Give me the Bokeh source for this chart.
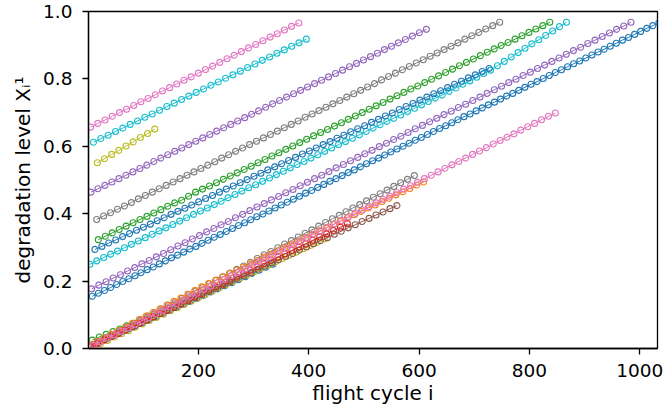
from bokeh.plotting import figure
from bokeh.models import Range1d, FixedTicker, PrintfTickFormatter
from bokeh.embed import file_html
from bokeh.resources import INLINE

# ---- data: (first cycle, cycle step, degradation levels) per unit ----
pink_top_x0, pink_top_step = 5, 13
pink_top_y = [0.657, 0.668, 0.678, 0.689, 0.700, 0.710, 0.721, 0.732, 0.742, 0.753,
              0.764, 0.774, 0.785, 0.796, 0.806, 0.817, 0.828, 0.838, 0.849, 0.860,
              0.870, 0.881, 0.892, 0.902, 0.913, 0.924, 0.934, 0.945, 0.956, 0.966]

cyan_top_x0, cyan_top_step = 10, 13.3
cyan_top_y = [0.612, 0.623, 0.633, 0.644, 0.654, 0.665, 0.675, 0.686, 0.696, 0.707,
              0.718, 0.728, 0.739, 0.749, 0.760, 0.770, 0.781, 0.791, 0.802, 0.812,
              0.823, 0.834, 0.844, 0.855, 0.865, 0.876, 0.886, 0.897, 0.907, 0.918]

olive_top_x0, olive_top_step = 17, 13
olive_top_y = [0.551, 0.563, 0.576, 0.588, 0.601, 0.613, 0.626, 0.638, 0.651]

purple_top_x0, purple_top_step = 5.5, 12.66
purple_top_y = [0.464, 0.474, 0.484, 0.494, 0.504, 0.514, 0.524, 0.534, 0.544, 0.555,
                0.565, 0.575, 0.585, 0.595, 0.605, 0.615, 0.625, 0.635, 0.645, 0.655,
                0.665, 0.675, 0.685, 0.695, 0.705, 0.716, 0.726, 0.736, 0.746, 0.756,
                0.766, 0.776, 0.786, 0.796, 0.806, 0.816, 0.826, 0.836, 0.846, 0.856,
                0.866, 0.876, 0.887, 0.897, 0.907, 0.917, 0.927, 0.937, 0.947]

gray_top_x0, gray_top_step = 15.8, 12.59
gray_top_y = [0.383, 0.393, 0.403, 0.413, 0.423, 0.433, 0.444, 0.454, 0.464, 0.474,
              0.484, 0.494, 0.504, 0.514, 0.524, 0.534, 0.544, 0.554, 0.565, 0.575,
              0.585, 0.595, 0.605, 0.615, 0.625, 0.635, 0.645, 0.655, 0.665, 0.675,
              0.686, 0.696, 0.706, 0.716, 0.726, 0.736, 0.746, 0.756, 0.766, 0.776,
              0.786, 0.797, 0.807, 0.817, 0.827, 0.837, 0.847, 0.857, 0.867, 0.877,
              0.887, 0.897, 0.907, 0.918, 0.928, 0.938, 0.948, 0.958, 0.968]

green_top_x0, green_top_step = 18.8, 12.585
green_top_y = [0.323, 0.333, 0.343, 0.353, 0.363, 0.373, 0.383, 0.392, 0.402, 0.412,
               0.422, 0.432, 0.440, 0.452, 0.464, 0.473, 0.482, 0.492, 0.502, 0.512,
               0.521, 0.531, 0.541, 0.551, 0.561, 0.571, 0.581, 0.591, 0.601, 0.611,
               0.621, 0.631, 0.641, 0.650, 0.660, 0.670, 0.680, 0.690, 0.700, 0.710,
               0.720, 0.730, 0.740, 0.750, 0.760, 0.770, 0.779, 0.789, 0.799, 0.809,
               0.819, 0.829, 0.839, 0.849, 0.859, 0.869, 0.879, 0.889, 0.899, 0.908,
               0.918, 0.928, 0.938, 0.948, 0.958, 0.968]

blue_mid_x0, blue_mid_step = 12.7, 12.53
blue_mid_y = [0.294, 0.303, 0.313, 0.322, 0.332, 0.341, 0.351, 0.360, 0.369, 0.379,
              0.388, 0.398, 0.407, 0.416, 0.426, 0.435, 0.445, 0.454, 0.464, 0.473,
              0.482, 0.492, 0.501, 0.511, 0.520, 0.530, 0.539, 0.548, 0.558, 0.567,
              0.577, 0.586, 0.595, 0.605, 0.614, 0.624, 0.633, 0.643, 0.652, 0.661,
              0.671, 0.680, 0.690, 0.699, 0.709, 0.718, 0.727, 0.737, 0.746, 0.756,
              0.765, 0.774, 0.784, 0.793, 0.803, 0.812, 0.822, 0.831]

cyan_mid_x0, cyan_mid_step = 3.6, 12.513
cyan_mid_y = [0.250, 0.260, 0.270, 0.280, 0.289, 0.299, 0.309, 0.319, 0.329, 0.339,
              0.349, 0.358, 0.368, 0.378, 0.388, 0.398, 0.408, 0.417, 0.427, 0.437,
              0.447, 0.457, 0.467, 0.477, 0.486, 0.496, 0.506, 0.516, 0.526, 0.536,
              0.546, 0.555, 0.565, 0.575, 0.585, 0.595, 0.605, 0.614, 0.624, 0.634,
              0.644, 0.654, 0.664, 0.674, 0.683, 0.693, 0.703, 0.713, 0.723, 0.733,
              0.743, 0.752, 0.763, 0.773, 0.784, 0.794, 0.805, 0.816, 0.826, 0.839,
              0.852, 0.865, 0.878, 0.891, 0.904, 0.916, 0.929, 0.942, 0.955, 0.968]

purple_low_x0, purple_low_step = 6.7, 13.03
purple_low_y = [0.177, 0.188, 0.198, 0.209, 0.219, 0.230, 0.240, 0.251, 0.261, 0.272,
                0.282, 0.293, 0.304, 0.314, 0.325, 0.335, 0.346, 0.356, 0.367, 0.377,
                0.388, 0.398, 0.409, 0.420, 0.430, 0.441, 0.451, 0.462, 0.472, 0.483,
                0.493, 0.504, 0.514, 0.525, 0.536, 0.546, 0.557, 0.567, 0.578, 0.588,
                0.599, 0.609, 0.620, 0.630, 0.641, 0.652, 0.662, 0.673, 0.683, 0.694,
                0.704, 0.715, 0.725, 0.736, 0.746, 0.757, 0.768, 0.778, 0.789, 0.799,
                0.810, 0.820, 0.831, 0.841, 0.852, 0.862, 0.873, 0.884, 0.894, 0.905,
                0.915, 0.926, 0.936, 0.947, 0.957, 0.968]

blue_low_x0, blue_low_step = 7.9, 11.04
blue_low_y = [0.155, 0.164, 0.172, 0.181, 0.190, 0.199, 0.207, 0.216, 0.225, 0.234,
              0.242, 0.251, 0.260, 0.269, 0.277, 0.286, 0.295, 0.303, 0.312, 0.321,
              0.330, 0.338, 0.347, 0.356, 0.365, 0.373, 0.382, 0.391, 0.399, 0.408,
              0.417, 0.426, 0.434, 0.443, 0.452, 0.461, 0.469, 0.478, 0.487, 0.496,
              0.504, 0.513, 0.522, 0.530, 0.539, 0.548, 0.557, 0.565, 0.574, 0.583,
              0.592, 0.600, 0.609, 0.618, 0.626, 0.635, 0.644, 0.653, 0.661, 0.670,
              0.679, 0.688, 0.696, 0.705, 0.714, 0.723, 0.731, 0.740, 0.749, 0.757,
              0.766, 0.775, 0.784, 0.792, 0.801, 0.810, 0.819, 0.827, 0.836, 0.845,
              0.853, 0.862, 0.871, 0.880, 0.888, 0.897, 0.906, 0.915, 0.923, 0.932,
              0.941, 0.950, 0.958, 0.967]

blue_bot_x0, blue_bot_step = 10, 12.5
blue_bot_y = [0.012, 0.021, 0.030, 0.039, 0.049, 0.058, 0.067, 0.076, 0.085, 0.094,
              0.104, 0.113, 0.122, 0.131, 0.140, 0.149, 0.158, 0.168, 0.177, 0.186,
              0.195, 0.204, 0.213, 0.223, 0.232, 0.241, 0.250]

green_bot_x0, green_bot_step = 8, 12.5
green_bot_y = [0.025, 0.034, 0.042, 0.050, 0.058, 0.067, 0.075, 0.084, 0.093, 0.102,
               0.111, 0.120, 0.129, 0.138, 0.147, 0.156, 0.164, 0.173, 0.182, 0.191,
               0.200]

olive_bot_x0, olive_bot_step = 10, 12.67
olive_bot_y = [0.005, 0.015, 0.024, 0.034, 0.044, 0.053, 0.063, 0.073, 0.083, 0.092,
               0.102, 0.112, 0.121, 0.131, 0.141, 0.150, 0.160, 0.170, 0.180, 0.189,
               0.199, 0.209, 0.218, 0.228, 0.238, 0.247, 0.257, 0.267, 0.277, 0.286,
               0.296, 0.306, 0.315, 0.325]

red_bot_x0, red_bot_step = 5, 12.57
red_bot_y = [0.005, 0.015, 0.025, 0.035, 0.044, 0.054, 0.064, 0.074, 0.084, 0.094,
             0.104, 0.114, 0.123, 0.133, 0.143, 0.153, 0.163, 0.173, 0.183, 0.192,
             0.202, 0.212, 0.222, 0.232, 0.242, 0.252, 0.261, 0.271, 0.281, 0.291,
             0.301, 0.311, 0.321, 0.331, 0.340, 0.350, 0.360, 0.370]

brown_bot_x0, brown_bot_step = 5, 12.61
brown_bot_y = [0.008, 0.017, 0.027, 0.036, 0.046, 0.055, 0.065, 0.074, 0.084, 0.093,
               0.103, 0.112, 0.121, 0.131, 0.140, 0.150, 0.159, 0.169, 0.178, 0.188,
               0.197, 0.207, 0.216, 0.225, 0.235, 0.244, 0.254, 0.263, 0.273, 0.282,
               0.292, 0.301, 0.311, 0.320, 0.329, 0.339, 0.348, 0.358, 0.367, 0.377,
               0.386, 0.396, 0.405, 0.415, 0.424]

gray_bot_x0, gray_bot_step = 10, 12.37
gray_bot_y = [0.010, 0.021, 0.031, 0.042, 0.053, 0.064, 0.074, 0.085, 0.096, 0.106,
              0.117, 0.128, 0.138, 0.149, 0.160, 0.171, 0.181, 0.192, 0.203, 0.213,
              0.224, 0.235, 0.245, 0.256, 0.267, 0.278, 0.288, 0.299, 0.310, 0.320,
              0.331, 0.342, 0.352, 0.363, 0.374, 0.385, 0.395, 0.406, 0.417, 0.427,
              0.438, 0.449, 0.459, 0.470, 0.481, 0.492, 0.502, 0.513]

orange_bot_x0, orange_bot_step = 5, 12.57
orange_bot_y = [0.010, 0.021, 0.032, 0.042, 0.053, 0.064, 0.075, 0.086, 0.096, 0.107,
                0.118, 0.129, 0.140, 0.150, 0.161, 0.172, 0.183, 0.193, 0.202, 0.212,
                0.222, 0.232, 0.241, 0.251, 0.261, 0.271, 0.280, 0.290, 0.300, 0.310,
                0.319, 0.329, 0.339, 0.349, 0.358, 0.368, 0.378, 0.388, 0.397, 0.407,
                0.417, 0.426, 0.436, 0.446, 0.456, 0.465, 0.475, 0.485, 0.494]

pink_bot_x0, pink_bot_step = 10, 12.49
pink_bot_y = [0.010, 0.020, 0.031, 0.041, 0.051, 0.061, 0.072, 0.082, 0.092, 0.103,
              0.113, 0.123, 0.133, 0.144, 0.154, 0.164, 0.175, 0.185, 0.195, 0.205,
              0.216, 0.226, 0.236, 0.247, 0.257, 0.267, 0.277, 0.288, 0.298, 0.308,
              0.319, 0.329, 0.339, 0.349, 0.360, 0.370, 0.380, 0.391, 0.401, 0.411,
              0.421, 0.432, 0.442, 0.452, 0.463, 0.473, 0.483, 0.493, 0.504, 0.514,
              0.524, 0.535, 0.545, 0.555, 0.565, 0.576, 0.586, 0.596, 0.607, 0.617,
              0.627, 0.637, 0.648, 0.658, 0.668, 0.679, 0.689, 0.699]

x_ticks = [200, 400, 600, 800, 1000]
y_ticks = [0.0, 0.2, 0.4, 0.6, 0.8, 1.0]

BLUE, ORANGE, GREEN, RED, PURPLE = "#1f77b4", "#ff7f0e", "#2ca02c", "#d62728", "#9467bd"
BROWN, PINK, GRAY, OLIVE, CYAN = "#8c564b", "#e377c2", "#7f7f7f", "#bcbd22", "#17becf"

series = [
    (BLUE, blue_low_x0, blue_low_step, blue_low_y),
    (PURPLE, purple_low_x0, purple_low_step, purple_low_y),
    (CYAN, cyan_mid_x0, cyan_mid_step, cyan_mid_y),
    (BLUE, blue_mid_x0, blue_mid_step, blue_mid_y),
    (GREEN, green_top_x0, green_top_step, green_top_y),
    (GRAY, gray_top_x0, gray_top_step, gray_top_y),
    (PURPLE, purple_top_x0, purple_top_step, purple_top_y),
    (OLIVE, olive_top_x0, olive_top_step, olive_top_y),
    (CYAN, cyan_top_x0, cyan_top_step, cyan_top_y),
    (PINK, pink_top_x0, pink_top_step, pink_top_y),
    (BLUE, blue_bot_x0, blue_bot_step, blue_bot_y),
    (GREEN, green_bot_x0, green_bot_step, green_bot_y),
    (OLIVE, olive_bot_x0, olive_bot_step, olive_bot_y),
    (BROWN, brown_bot_x0, brown_bot_step, brown_bot_y),
    (GRAY, gray_bot_x0, gray_bot_step, gray_bot_y),
    (ORANGE, orange_bot_x0, orange_bot_step, orange_bot_y),
    (RED, red_bot_x0, red_bot_step, red_bot_y),
    (PINK, pink_bot_x0, pink_bot_step, pink_bot_y),
]

FONT = "DejaVu Sans"

p = figure(width=663, height=416, output_backend="svg", toolbar_location=None,
           x_range=Range1d(1, 1032), y_range=Range1d(0, 1.0),
           min_border_left=88, min_border_right=6, min_border_top=11, min_border_bottom=68)

for color, x0, step, ys in series:
    xs = [x0 + step * i for i in range(len(ys))]
    p.line(xs, ys, line_color=color, line_width=1)
    p.scatter(xs, ys, marker="circle", size=6, fill_color=None,
              line_color=color, line_width=1.1)

p.xgrid.visible = False
p.ygrid.visible = False
p.outline_line_color = "black"
p.outline_line_width = 1.3
p.background_fill_color = "white"
p.border_fill_color = "white"

p.xaxis.ticker = FixedTicker(ticks=x_ticks)
p.yaxis.ticker = FixedTicker(ticks=y_ticks)
p.yaxis.formatter = PrintfTickFormatter(format="%.1f")
p.xaxis.axis_label = "flight cycle i"
p.yaxis.axis_label = "degradation level Xᵢ¹"
for ax in (p.xaxis[0], p.yaxis[0]):
    ax.axis_label_text_font = FONT
    ax.axis_label_text_font_size = "20px"
    ax.axis_label_text_font_style = "normal"
    ax.axis_label_text_color = "black"
    ax.major_label_text_font = FONT
    ax.major_label_text_font_size = "18.5px"
    ax.major_label_text_color = "black"
    ax.axis_line_color = "black"
    ax.axis_line_width = 1.3
    ax.major_tick_line_color = "black"
    ax.major_tick_line_width = 1.3
    ax.major_tick_out = 6
    ax.major_tick_in = 0
    ax.minor_tick_line_color = None
p.xaxis.major_label_standoff = 9
p.xaxis.axis_label_standoff = 1
p.yaxis.major_label_standoff = 10
p.yaxis.axis_label_standoff = 5

with open("out.html", "w") as f:
    f.write(file_html(p, INLINE))
